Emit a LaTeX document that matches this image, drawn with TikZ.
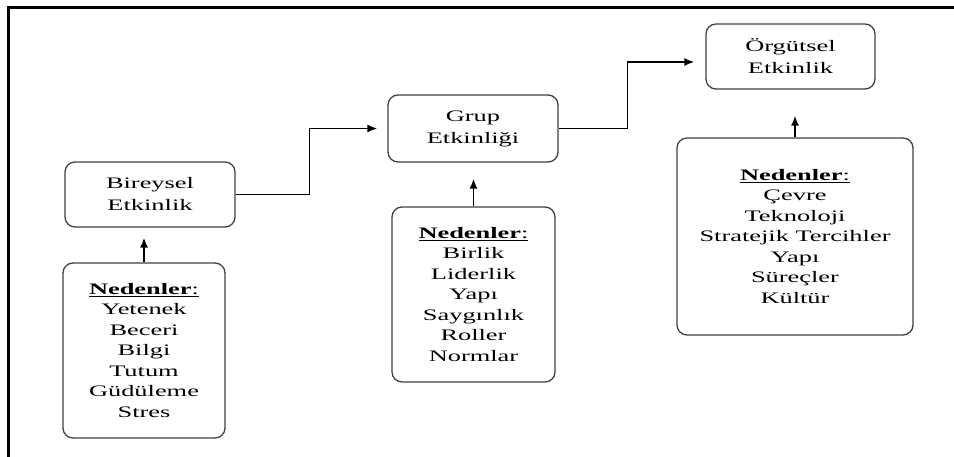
\documentclass[tikz,border=0pt]{standalone}
\usepackage{fontspec}
\setmainfont{Liberation Serif}[FakeStretch=1.65]
\usetikzlibrary{arrows.meta}
\begin{document}
\begin{tikzpicture}[x=1pt,y=-1pt,
  box/.style={draw=black!75, line width=1.3pt, rounded corners=10pt,
    inner sep=0pt, align=center, font=\fontsize{16}{22}\selectfont},
  causebox/.style={box, font=\fontsize{16}{20.5}\selectfont},
  link/.style={draw=black, line width=1.6pt, -{Latex[length=10pt,width=8pt]}},
  frame/.style={draw=black, line width=3pt},
]
\useasboundingbox (0,0) rectangle (954,457);

% outer frame (top and left edges)
\draw[frame] (8.5,457) -- (8.5,7.5) -- (954,7.5);

% effectiveness levels
\node[box, minimum width=170pt, minimum height=65pt] (B1) at (150,194.5)
  {Bireysel\\Etkinlik};
\node[box, minimum width=170pt, minimum height=67pt] (G) at (473,128.5)
  {Grup\\Etkinliği};
\node[box, minimum width=169pt, minimum height=65pt] (O) at (790.5,56.5)
  {Örgütsel\\Etkinlik};

% causes
\node[causebox, minimum width=162pt, minimum height=175pt] (N1) at (144,350.5)
  {\underline{\textbf{Nedenler}:}\\Yetenek\\Beceri\\Bilgi\\Tutum\\Güdüleme\\Stres};
\node[causebox, minimum width=163pt, minimum height=175pt] (N2) at (473.5,294.5)
  {\underline{\textbf{Nedenler}:}\\Birlik\\Liderlik\\Yapı\\Saygınlık\\Roller\\Normlar};
\node[causebox, minimum width=236pt, minimum height=197pt] (N3) at (795,236.5)
  {\underline{\textbf{Nedenler}:}\\Çevre\\Teknoloji\\Stratejik Tercihler\\Yapı\\Süreçler\\Kültür};

% causes feed each level
\draw[link, shorten >=10pt] (N1.north) -- (N1.north |- B1.south);
\draw[link, shorten >=16pt] (N2.north) -- (N2.north |- G.south);
\draw[link, shorten >=26pt] (N3.north) -- (N3.north |- O.south);

% level to level
\draw[link, shorten >=10pt] (B1.east) -- ++(74,0) |- (G.west);
\draw[link, shorten >=11pt] (G.east) -- ++(69,0) |- ([yshift=-5.5pt]O.west);
\end{tikzpicture}
\end{document}
